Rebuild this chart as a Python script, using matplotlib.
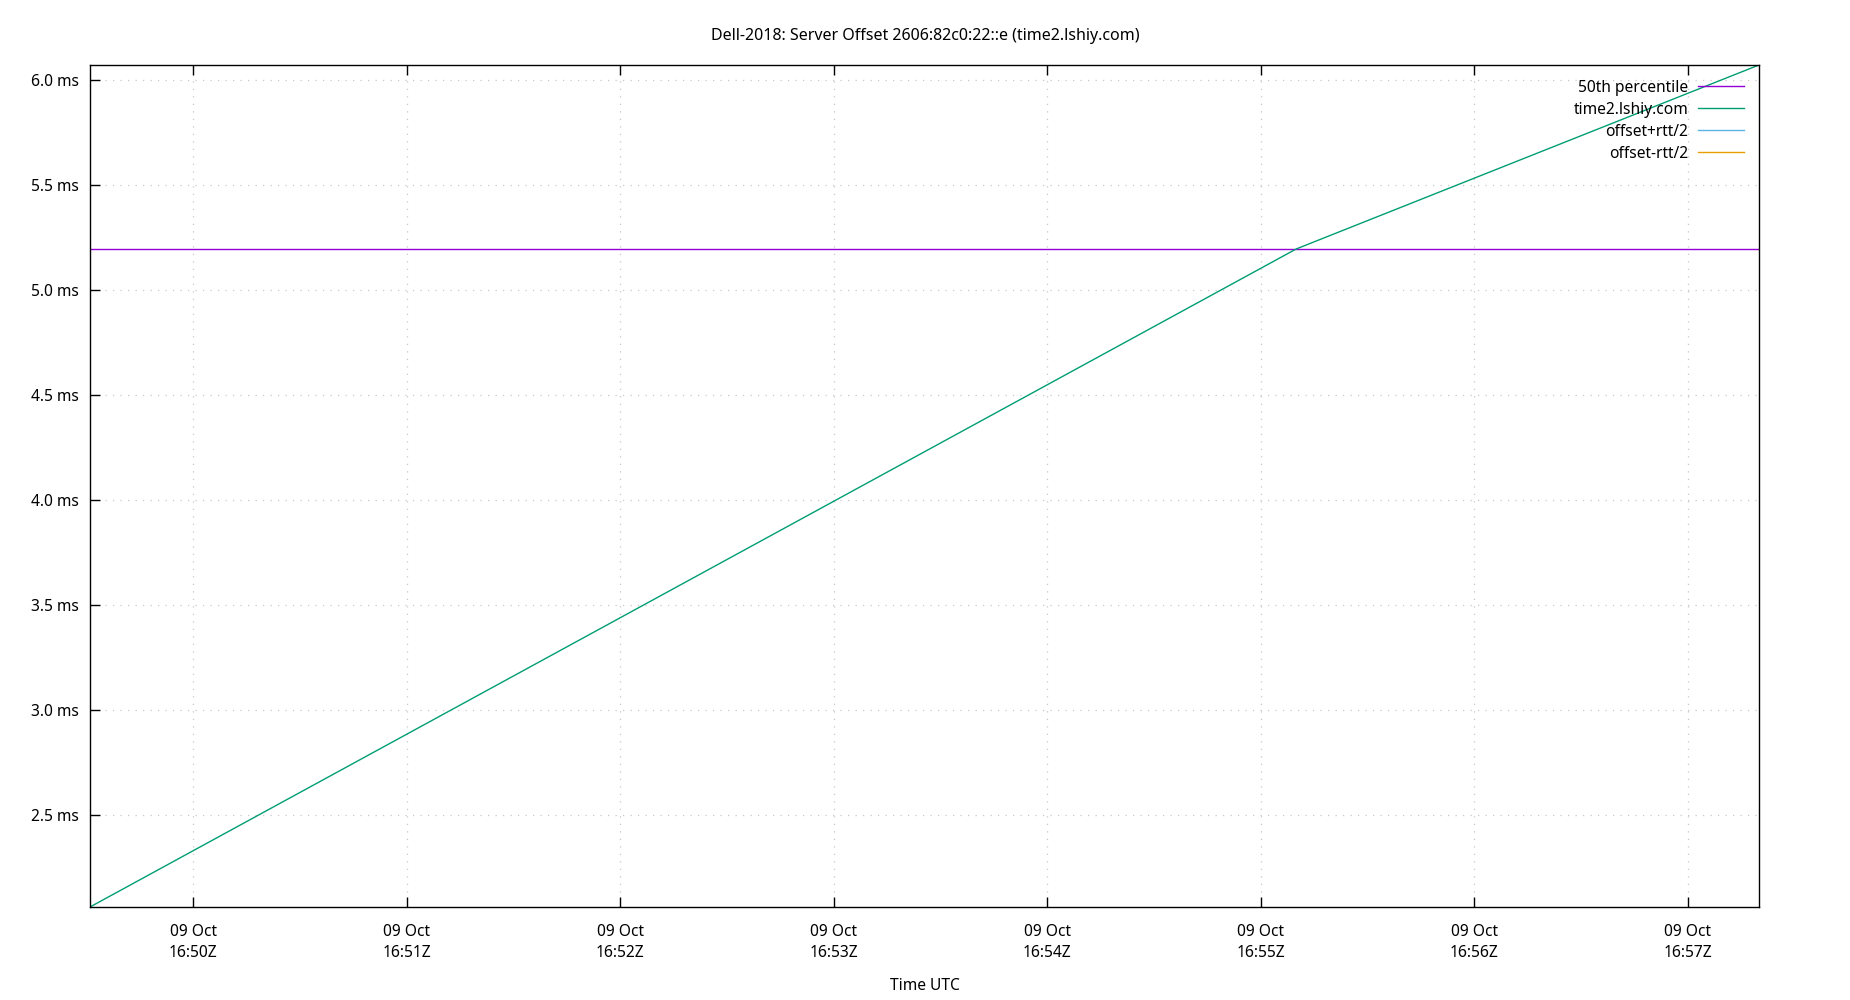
import numpy as np
import matplotlib.pyplot as plt
import matplotlib.dates as mdates
from matplotlib.ticker import FuncFormatter

plt.rcParams['font.family'] = ['Noto Sans', 'DejaVu Sans']

# data
times = np.array(['2023-10-09T16:49:31', '2023-10-09T16:55:10', '2023-10-09T16:57:20'], dtype='datetime64[s]')
offset_ms = [2.062, 5.197, 6.073]
p50_ms = 5.197
plus_times = []
plus_ms = []
minus_times = []
minus_ms = []

fig = plt.figure(figsize=(18.5, 10), dpi=100)
ax = fig.add_axes([90/1850, 1 - 907/1000, (1759-90)/1850, (907-65)/1000])

t = times.astype('O')
ax.axhline(p50_ms, color='#9400d3', lw=1, label='50th percentile')
ax.plot(t, offset_ms, color='#009e73', lw=1, label='time2.lshiy.com')
ax.plot(plus_times, plus_ms, color='#56b4e9', lw=1, label='offset+rtt/2')
ax.plot(minus_times, minus_ms, color='#e69f00', lw=1, label='offset-rtt/2')

ax.set_xlim(t[0], t[-1])
ax.set_ylim(min(offset_ms), max(offset_ms))

ax.xaxis.set_major_locator(mdates.MinuteLocator())
ax.xaxis.set_major_formatter(mdates.DateFormatter('%d %b\n%H:%MZ'))
ax.yaxis.set_major_locator(plt.MultipleLocator(0.5))
ax.yaxis.set_major_formatter(FuncFormatter(lambda v, p: '%.1f ms' % v))

ax.tick_params(direction='in', length=7, width=1, top=True, right=False, labelsize=11.2)
ax.tick_params(axis='x', pad=12)
ax.tick_params(axis='y', pad=8)
for lab in ax.get_xticklabels():
    lab.set_linespacing(1.45)
ax.grid(True, color='#c8c8c8', ls=(0, (1, 5)), lw=0.9)
for s in ax.spines.values():
    s.set_linewidth(1)

ax.set_xlabel('Time UTC', fontsize=11.2, labelpad=12)
fig.suptitle('Dell-2018: Server Offset 2606:82c0:22::e (time2.lshiy.com)', fontsize=11.5, y=0.972)

ax.legend(loc='upper right', frameon=False, markerfirst=False, fontsize=11.2,
          handlelength=3, handletextpad=0.6, labelspacing=0.38, borderaxespad=0.55)

fig.savefig('out.png')
